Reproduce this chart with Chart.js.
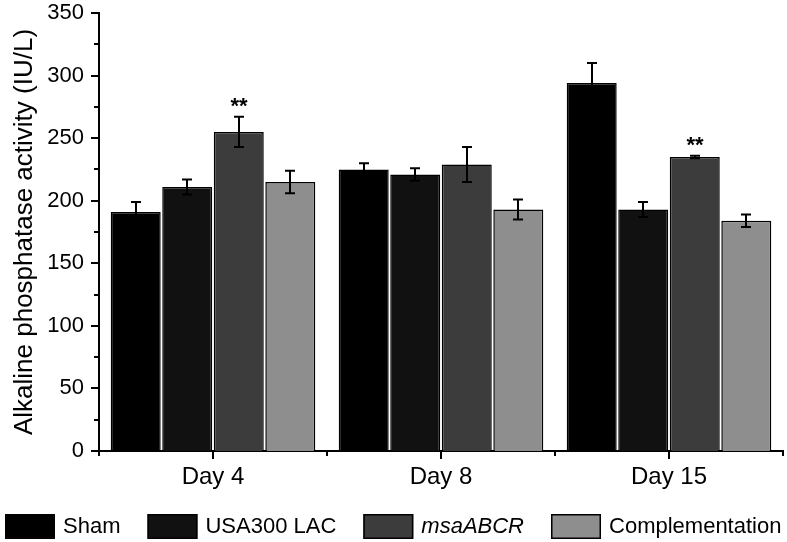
<!DOCTYPE html>
<html>
<head>
<meta charset="utf-8">
<script src="https://cdn.jsdelivr.net/npm/chart.js@4"></script>
<style>
  html, body { margin: 0; padding: 0; background: #fff; }
  #wrap { width: 787px; height: 542px; position: relative; }
</style>
</head>
<body>
<div id="wrap"><canvas id="alpChart"></canvas></div>
<script>
// datos
var dias = ['Day 4', 'Day 8', 'Day 15'];
var grupos = ['Sham', 'USA300 LAC', 'msaABCR', 'Complementation'];

var sham = [191, 225, 294];
var shamErr = [8, 5, 16];
var usa300 = [211, 221, 193];
var usa300Err = [6, 5, 6];
var msaABCR = [255, 229, 235];
var msaABCRErr = [12, 14, 1];
var complementation = [215, 193, 184];
var complementationErr = [9, 8, 5];

// asteriscos de significancia (serie msaABCR)
var significancia = ['**', '', '**'];

var yTicks = [0, 50, 100, 150, 200, 250, 300, 350];

var colores = ['#000000', '#111111', '#3c3c3c', '#8e8e8e'];
var FUENTE = '"Liberation Sans", Arial, sans-serif';

var errores = [shamErr, usa300Err, msaABCRErr, complementationErr];

// barras de error + asteriscos
var errorBars = {
    id: 'errorBars',
    afterDatasetsDraw: function(chart) {
        var ctx = chart.ctx;
        var y = chart.scales.y;
        ctx.save();
        ctx.strokeStyle = '#000';
        ctx.lineWidth = 2;
        chart.data.datasets.forEach(function(ds, i) {
            var meta = chart.getDatasetMeta(i);
            meta.data.forEach(function(bar, j) {
                var v = ds.data[j];
                var e = errores[i][j];
                var top = y.getPixelForValue(v + e);
                var bot = y.getPixelForValue(v - e);
                var cx = Math.round(bar.x);
                ctx.beginPath();
                ctx.moveTo(cx, top);
                ctx.lineTo(cx, bot);
                ctx.moveTo(cx - 5, top);
                ctx.lineTo(cx + 5, top);
                ctx.moveTo(cx - 5, bot);
                ctx.lineTo(cx + 5, bot);
                ctx.stroke();
                if (i === 2 && significancia[j]) {
                    ctx.fillStyle = '#000';
                    ctx.font = 'bold 22px ' + FUENTE;
                    ctx.textAlign = 'center';
                    ctx.textBaseline = 'alphabetic';
                    ctx.fillText(significancia[j], cx, top - 4);
                }
            });
        });
        ctx.restore();
    }
};

// marcas de los ejes (mayores y menores)
var marcasEjes = {
    id: 'marcasEjes',
    afterDraw: function(chart) {
        var ctx = chart.ctx;
        var x = chart.scales.x;
        var y = chart.scales.y;
        var area = chart.chartArea;
        ctx.save();
        ctx.strokeStyle = '#000';
        ctx.lineWidth = 2;
        ctx.beginPath();
        for (var v = 0; v <= 350; v += 25) {
            var py = Math.round(y.getPixelForValue(v));
            var len = (v % 50 === 0) ? 8 : 5;
            ctx.moveTo(area.left - len, py);
            ctx.lineTo(area.left, py);
        }
        for (var i = 0; i < dias.length; i++) {
            var px = Math.round(x.getPixelForValue(i));
            ctx.moveTo(px, area.bottom);
            ctx.lineTo(px, area.bottom + 8);
        }
        for (var k = 0; k <= dias.length; k++) {
            var pb = Math.round(x.getPixelForValue(k - 0.5));
            ctx.moveTo(pb, area.bottom);
            ctx.lineTo(pb, area.bottom + 5);
        }
        ctx.stroke();
        ctx.restore();
    }
};

// leyenda abajo, dibujada a mano para poder poner msaABCR en cursiva
var leyenda = {
    id: 'leyenda',
    afterDraw: function(chart) {
        var ctx = chart.ctx;
        ctx.save();
        ctx.textBaseline = 'middle';
        ctx.textAlign = 'left';
        var anchos = grupos.map(function(g, i) {
            ctx.font = (i === 2 ? 'italic ' : '') + '22px ' + FUENTE;
            return ctx.measureText(g).width;
        });
        var total = anchos.reduce(function(a, b) { return a + b; }, 0) + 4 * 58 + 3 * 27;
        var x0 = Math.round((chart.width - total) / 2);
        var yc = 526;
        grupos.forEach(function(g, i) {
            ctx.fillStyle = colores[i];
            ctx.fillRect(x0, yc - 12, 50, 25);
            ctx.strokeStyle = '#000';
            ctx.lineWidth = 1.5;
            ctx.strokeRect(x0 + 0.75, yc - 11.25, 48.5, 23.5);
            ctx.fillStyle = '#000';
            ctx.font = (i === 2 ? 'italic ' : '') + '22px ' + FUENTE;
            ctx.fillText(g, x0 + 58, yc + 1);
            x0 += 58 + anchos[i] + 27;
        });
        ctx.restore();
    }
};

var series = [sham, usa300, msaABCR, complementation];

var alpChart = new Chart(document.getElementById('alpChart'), {
    type: 'bar',
    data: {
        labels: dias,
        datasets: grupos.map(function(g, i) {
            return {
                label: g,
                data: series[i],
                backgroundColor: colores[i],
                borderColor: '#000000',
                borderWidth: 1.5,
                categoryPercentage: 0.904,
                barPercentage: 0.97
            };
        })
    },
    options: {
        responsive: true,
        maintainAspectRatio: false,
        animation: false,
        events: [],
        layout: { padding: { top: 13, right: 4, left: 0, bottom: 0 } },
        plugins: {
            legend: { display: false },
            tooltip: { enabled: false }
        },
        scales: {
            x: {
                offset: true,
                grid: { display: false },
                border: { display: true, color: '#000', width: 2 },
                ticks: {
                    color: '#000',
                    padding: 4,
                    font: { family: FUENTE, size: 24 }
                },
                afterFit: function(s) {
                    s.height = 91;
                    s.paddingLeft = 0;
                    s.paddingRight = 0;
                }
            },
            y: {
                min: 0,
                max: 350,
                grid: { display: false },
                border: { display: true, color: '#000', width: 2 },
                afterBuildTicks: function(s) {
                    s.ticks = yTicks.map(function(v) { return { value: v }; });
                },
                ticks: {
                    color: '#000',
                    padding: 7,
                    font: { family: FUENTE, size: 22 }
                },
                title: {
                    display: true,
                    text: 'Alkaline phosphatase activity (IU/L)',
                    color: '#000',
                    padding: { top: 9 },
                    font: { family: FUENTE, size: 26 }
                },
                afterFit: function(s) {
                    s.width = 99;
                    s.paddingTop = 0;
                    s.paddingBottom = 0;
                }
            }
        }
    },
    plugins: [errorBars, marcasEjes, leyenda]
});
</script>
</body>
</html>
